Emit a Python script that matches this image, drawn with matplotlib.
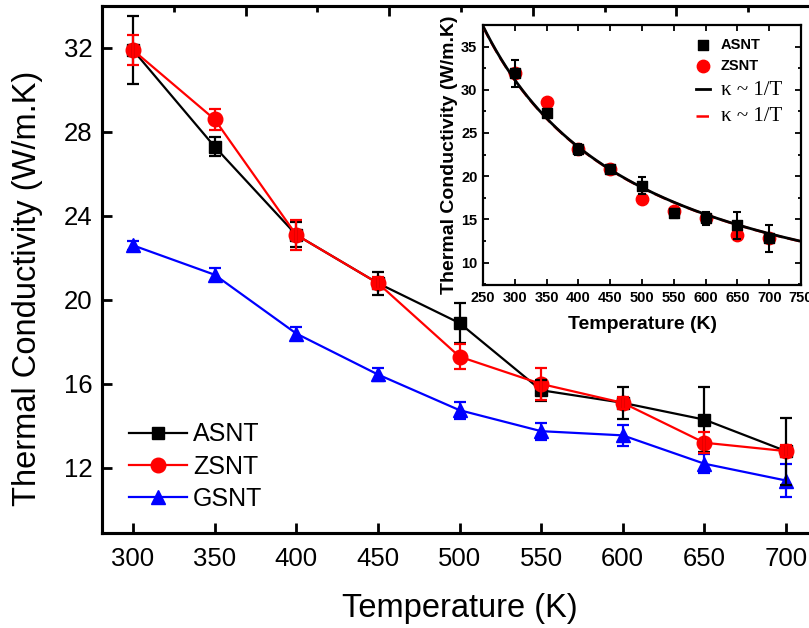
import numpy as np
import matplotlib.pyplot as plt
from matplotlib.ticker import MultipleLocator

plt.rcParams['font.family'] = ['Liberation Sans', 'DejaVu Sans']

# данные
temps = [300, 350, 400, 450, 500, 550, 600, 650, 700]
asnt = [31.9, 27.3, 23.1, 20.8, 18.9, 15.7, 15.1, 14.3, 12.8]
asnt_err = [1.6, 0.45, 0.6, 0.55, 0.95, 0.5, 0.75, 1.55, 1.6]
zsnt = [31.9, 28.6, 23.1, 20.8, 17.3, 16.0, 15.1, 13.2, 12.8]
zsnt_err = [0.7, 0.5, 0.72, 0.3, 0.6, 0.75, 0.3, 0.5, 0.3]
gsnt = [22.6, 21.2, 18.4, 16.45, 14.75, 13.75, 13.55, 12.2, 11.4]
gsnt_err = [0.2, 0.3, 0.3, 0.3, 0.4, 0.4, 0.5, 0.45, 0.8]
names = ['ASNT', 'ZSNT', 'GSNT']
fit_label = 'κ ~ 1/T'

fig = plt.figure(figsize=(8.09, 6.28), dpi=100)
ax = fig.add_axes([102 / 809, 1 - 533 / 628, 715 / 809, 527 / 628])

# основной график
series = [(gsnt, gsnt_err, 'blue', '^', 10), (zsnt, zsnt_err, 'red', 'o', 10.5), (asnt, asnt_err, 'black', 's', 8.5)]
handles = {}
for (vals, errs, col, mk, ms), name in zip(series, ['GSNT', 'ZSNT', 'ASNT']):
    z = {'GSNT': 2, 'ZSNT': 4, 'ASNT': 3}[name]
    ln, = ax.plot(temps, vals, color=col, marker=mk, ms=ms, lw=1.6, zorder=z, label=name)
    ax.errorbar(temps, vals, yerr=errs, fmt='none', ecolor=col, elinewidth=1.6,
                capsize=4, capthick=1.6, zorder=z + 3)
    handles[name] = ln

ax.set_xlim(281, 719)
ax.set_ylim(8.9, 34.0)
ax.set_xticks(temps)
ax.yaxis.set_major_locator(MultipleLocator(4))
ax.tick_params(direction='in', length=7, width=2, labelsize=18.5)
ax.tick_params(axis='x', pad=10)
ax.tick_params(axis='y', pad=7)
for s in ax.spines.values():
    s.set_linewidth(2.2)
ax.set_xlabel('Temperature (K)', fontsize=23.5, labelpad=16)
ax.set_ylabel('Thermal Conductivity (W/m.K)', fontsize=23.5)
ax.yaxis.set_label_coords(-0.082, 0.465)

leg = ax.legend([handles[n] for n in names], names, loc='upper left',
                bbox_to_anchor=(0.038, 0.21), frameon=False, fontsize=18,
                handlelength=2.3, handletextpad=0.25, labelspacing=0.33,
                borderpad=0, borderaxespad=0)

# верхние засечки
ax_top = ax.twiny()
ax_top.set_xlim(0, 498)
ax_top.xaxis.set_major_locator(MultipleLocator(100))
ax_top.xaxis.set_minor_locator(MultipleLocator(50))
ax_top.tick_params(axis='x', which='major', direction='in', length=7, width=2, labeltop=False)
ax_top.tick_params(axis='x', which='minor', direction='in', length=4, width=2)
for s in ax_top.spines.values():
    s.set_linewidth(2.2)

# вставка
axins = fig.add_axes([483 / 809, 1 - 285 / 628, 318 / 809, 260 / 628])
axins.set_facecolor('white')
tt = np.array(temps, dtype=float)
T_fit = np.linspace(250, 750, 300)
A_a = np.sum(np.array(asnt) / tt) / np.sum(1 / tt ** 2)
A_z = np.sum(np.array(zsnt) / tt) / np.sum(1 / tt ** 2)

p_z = axins.scatter(temps, zsnt, s=80, color='red', marker='o', zorder=2, label='ZSNT')
l_z, = axins.plot(T_fit, A_z / T_fit, color='red', lw=1.8, ls=(0, (5, 2)), zorder=3)
p_a = axins.scatter(temps, asnt, s=50, color='black', marker='s', zorder=4, label='ASNT')
axins.errorbar(temps, asnt, yerr=asnt_err, fmt='none', ecolor='black', elinewidth=1.5,
               capsize=3, capthick=1.5, zorder=5)
l_a, = axins.plot(T_fit, A_a / T_fit, color='black', lw=2, zorder=6)

axins.set_xlim(250, 750)
axins.set_ylim(7.4, 37.5)
axins.xaxis.set_major_locator(MultipleLocator(50))
axins.yaxis.set_major_locator(MultipleLocator(5))
axins.yaxis.set_minor_locator(MultipleLocator(2.5))
axins.tick_params(which='both', direction='in', top=True, right=True, width=1.3)
axins.tick_params(which='major', length=4, labelsize=10.5, pad=4)
axins.tick_params(which='minor', length=2.5)
for lab in axins.get_xticklabels() + axins.get_yticklabels():
    lab.set_fontweight('bold')
for s in axins.spines.values():
    s.set_linewidth(1.6)
axins.set_xlabel('Temperature (K)', fontsize=14, fontweight='bold', labelpad=8)
axins.set_ylabel('Thermal Conductivity (W/m.K)', fontsize=14, fontweight='bold', labelpad=2)

leg2 = axins.legend([p_a, p_z, l_a, l_z], ['ASNT', 'ZSNT', fit_label, fit_label],
                    loc='upper right', bbox_to_anchor=(0.94, 0.95), frameon=False,
                    prop={'size': 10.5, 'weight': 'bold'}, handlelength=1.0,
                    handletextpad=0.7, labelspacing=0.5, borderpad=0, borderaxespad=0)
for txt in leg2.get_texts()[2:]:
    txt.set_fontfamily(['Liberation Serif'])
    txt.set_fontweight('normal')
    txt.set_fontsize(15)

fig.savefig('out.png', dpi=100)
